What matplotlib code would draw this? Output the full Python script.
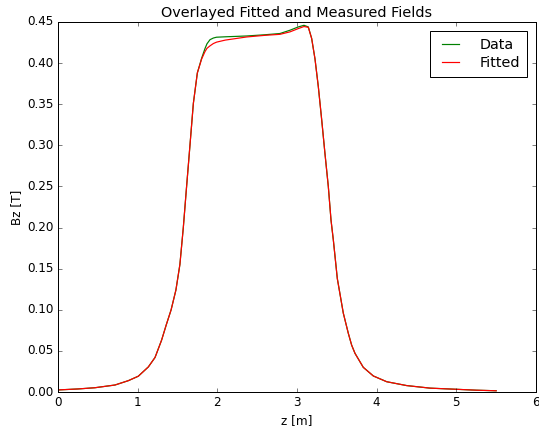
import matplotlib
matplotlib.use("Agg")
import matplotlib.pyplot as plt

z = [0.0, 0.25, 0.464, 0.715, 0.883, 1.008, 1.134, 1.218, 1.30, 1.36,
     1.42, 1.48, 1.53, 1.573, 1.61, 1.648, 1.699, 1.749, 1.803, 1.845,
     1.870, 1.908, 1.95, 1.99, 2.1, 2.368, 2.6, 2.786, 2.912, 3.016, 3.088,
     3.142, 3.184, 3.226, 3.268, 3.31, 3.351, 3.393, 3.427, 3.456, 3.506,
     3.531, 3.581, 3.644, 3.686, 3.728, 3.832, 3.958, 4.126, 4.377, 4.67,
     5.0, 5.25, 5.5]

bz_data = [0.0025, 0.0037, 0.0052, 0.0085, 0.0138, 0.0192, 0.0305, 0.042,
           0.063, 0.082, 0.100, 0.124, 0.155, 0.200, 0.245, 0.290, 0.351,
           0.388, 0.406, 0.4177, 0.4235, 0.4285, 0.4305, 0.4315, 0.432, 0.433,
           0.4345, 0.436, 0.440, 0.444, 0.446, 0.444, 0.430, 0.405, 0.371,
           0.331, 0.290, 0.250, 0.209, 0.185, 0.138, 0.124, 0.096, 0.0714,
           0.057, 0.047, 0.030, 0.0195, 0.0125, 0.0078, 0.0047, 0.0033,
           0.0022, 0.0015]

bz_fit = [0.0025, 0.0037, 0.0052, 0.0085, 0.0138, 0.0192, 0.0305, 0.042,
          0.063, 0.082, 0.100, 0.124, 0.155, 0.200, 0.245, 0.290, 0.351,
          0.388, 0.405, 0.414, 0.418, 0.421, 0.4238, 0.4255, 0.428, 0.4318,
          0.4338, 0.435, 0.438, 0.442, 0.4445, 0.4435, 0.430, 0.405, 0.371,
          0.331, 0.290, 0.250, 0.209, 0.185, 0.138, 0.124, 0.096, 0.0714,
          0.057, 0.047, 0.030, 0.0195, 0.0125, 0.0078, 0.0047, 0.0033,
          0.0022, 0.0015]

plt.style.use("classic")
fig = plt.figure(figsize=(539 / 72, 427 / 72), dpi=72, facecolor="white")
ax = fig.add_axes([58 / 539, 1 - 392 / 427, (536 - 58) / 539, (392 - 22) / 427])
ax.plot(z, bz_data, "g-", lw=1.2, label="Data")
ax.plot(z, bz_fit, "r-", lw=1.2, label="Fitted")
ax.set_xlim(0, 6)
ax.set_ylim(0, 0.45)
ax.set_title("Overlayed Fitted and Measured Fields")
ax.set_xlabel("z [m]")
ax.set_ylabel("Bz [T]")
ax.legend(loc="upper right", borderpad=0.5, labelspacing=0.3,
          handlelength=1.8, handletextpad=1.15, borderaxespad=0.6)
fig.savefig("out.png", dpi=72, facecolor="white")
